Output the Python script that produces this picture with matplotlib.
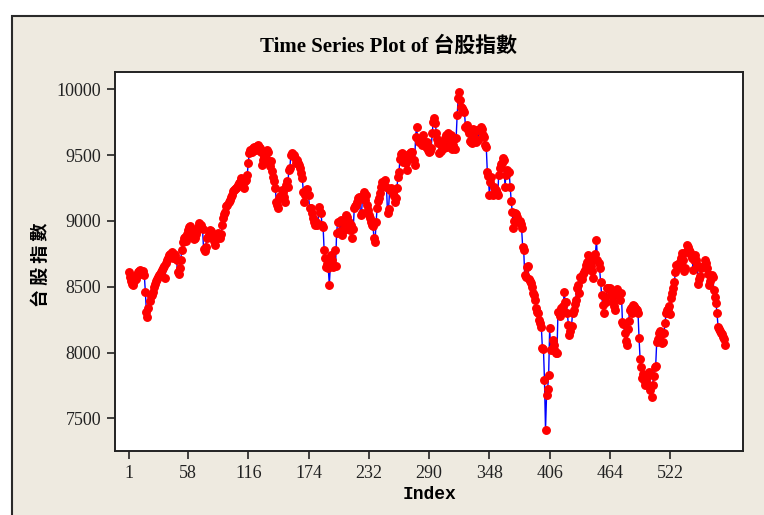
import matplotlib
matplotlib.use("Agg")
import matplotlib.pyplot as plt
from matplotlib.patches import Rectangle

# 台股指數 values, index 1..575
taiex = [
    8614, 8575, 8545, 8520, 8510, 8540, 8580, 8560, 8590, 8610,
    8620, 8630, 8615, 8600, 8620, 8590, 8460, 8310, 8272, 8340,
    8390, 8430, 8440, 8460, 8500, 8520, 8540, 8560, 8575, 8590,
    8600, 8610, 8630, 8640, 8660, 8565, 8680, 8700, 8720, 8740,
    8750, 8730, 8760, 8720, 8750, 8740, 8700, 8610, 8600, 8640,
    8700, 8780, 8840, 8870, 8880, 8850, 8900, 8930, 8950, 8960,
    8918, 8900, 8880, 8860, 8870, 8900, 8931, 8956, 8981, 8970,
    8968, 8940, 8790, 8770, 8800, 8867, 8880, 8900, 8931, 8920,
    8900, 8880, 8850, 8817, 8860, 8880, 8905, 8890, 8870, 8900,
    8968, 9019, 9050, 9070, 9110, 9121, 9140, 9159, 9180, 9197,
    9230, 9235, 9240, 9247, 9260, 9273, 9290, 9298, 9323, 9300,
    9290, 9247, 9300, 9311, 9349, 9437, 9514, 9539, 9530, 9520,
    9551, 9560, 9540, 9570, 9577, 9565, 9550, 9526, 9425, 9460,
    9488, 9470, 9480, 9539, 9520, 9450, 9420, 9455, 9380, 9330,
    9300, 9250, 9146, 9120, 9095, 9171, 9190, 9235, 9220, 9180,
    9146, 9273, 9300, 9260, 9387, 9399, 9501, 9514, 9490, 9500,
    9480, 9437, 9460, 9440, 9425, 9400, 9361, 9323, 9222, 9146,
    9200, 9235, 9240, 9200, 9095, 9100, 9060, 9019, 8990, 8968,
    8990, 8970, 8980, 9108, 9070, 9057, 8968, 8956, 8779, 8716,
    8652, 8670, 8640, 8513, 8660, 8741, 8700, 8650, 8779, 8660,
    8906, 8994, 8994, 8920, 9010, 8893, 9000, 8930, 8960, 9045,
    9030, 8950, 8990, 8930, 8968, 8867, 8940, 9095, 9110, 9121,
    9140, 9171, 9180, 9045, 9060, 9190, 9222, 9160, 9200, 9120,
    9080, 9045, 9020, 8990, 8968, 8960, 8867, 8842, 8994, 9095,
    9150, 9171, 9210, 9260, 9298, 9290, 9270, 9311, 9260, 9057,
    9090, 9235, 9250, 9230, 9210, 9190, 9146, 9170, 9247, 9330,
    9374, 9470, 9510, 9514, 9450, 9480, 9500, 9440, 9387, 9470,
    9500, 9514, 9520, 9526, 9460, 9425, 9640, 9716, 9620, 9600,
    9620, 9615, 9580, 9653, 9600, 9577, 9560, 9600, 9539, 9520,
    9530, 9550, 9665, 9754, 9780, 9740, 9665, 9620, 9590, 9514,
    9530, 9580, 9600, 9550, 9630, 9653, 9560, 9665, 9630, 9600,
    9653, 9545, 9577, 9620, 9545, 9628, 9805, 9931, 9982, 9920,
    9868, 9860, 9845, 9830, 9716, 9730, 9690, 9670, 9610, 9600,
    9589, 9700, 9640, 9610, 9602, 9690, 9615, 9690, 9700, 9716,
    9700, 9650, 9640, 9577, 9560, 9374, 9340, 9197, 9298, 9330,
    9197, 9260, 9230, 9235, 9210, 9200, 9349, 9399, 9430, 9440,
    9475, 9460, 9260, 9350, 9387, 9370, 9370, 9260, 9150, 9070,
    8943, 9000, 9057, 9050, 9030, 8994, 9000, 8980, 8943, 8804,
    8779, 8589, 8570, 8652, 8660, 8560, 8540, 8525, 8500, 8450,
    8440, 8399, 8340, 8310, 8300, 8250, 8222, 8190, 8032, 8030,
    7791, 7411, 7677, 7720, 7829, 8184, 8020, 8030, 8095, 8060,
    8010, 7994, 8000, 8310, 8300, 8280, 8336, 8320, 8350, 8462,
    8380, 8380, 8300, 8209, 8133, 8160, 8200, 8298, 8323, 8370,
    8399, 8488, 8513, 8450, 8576, 8570, 8560, 8600, 8614, 8630,
    8665, 8690, 8741, 8700, 8680, 8660, 8620, 8563, 8716, 8750,
    8855, 8700, 8680, 8640, 8538, 8437, 8360, 8298, 8420, 8380,
    8488, 8490, 8480, 8490, 8460, 8430, 8386, 8350, 8323, 8460,
    8480, 8440, 8450, 8400, 8450, 8235, 8220, 8150, 8090, 8057,
    8180, 8240, 8323, 8340, 8300, 8361, 8350, 8340, 8330, 8320,
    8300, 8108, 7950, 7893, 7804, 7840, 7791, 7753, 7800, 7760,
    7829, 7850, 7715, 7665, 7753, 7820, 7893, 7900, 8083, 8100,
    8146, 8160, 8140, 8070, 8080, 8150, 8222, 8300, 8323, 8330,
    8350, 8290, 8412, 8450, 8488, 8538, 8614, 8665, 8670, 8650,
    8690, 8720, 8754, 8700, 8620, 8640, 8760, 8817, 8800, 8780,
    8766, 8740, 8720, 8627, 8700, 8741, 8700, 8665, 8520, 8560,
    8580, 8639, 8650, 8660, 8703, 8680, 8640, 8600, 8513, 8540,
    8576, 8590, 8570, 8475, 8420, 8374, 8298, 8197, 8180, 8160,
    8150, 8140, 8120, 8100, 8057,
]
index = list(range(1, len(taiex) + 1))

xticks = [1, 58, 116, 174, 232, 290, 348, 406, 464, 522]
yticks = [7500, 8000, 8500, 9000, 9500, 10000]

serif = ['Liberation Serif', 'Noto Sans CJK TC', 'DejaVu Sans']
cjk = ['Noto Sans CJK TC', 'DejaVu Sans']

fig = plt.figure(figsize=(7.64, 5.15), dpi=100)
fig.patch.set_facecolor('white')

ax = fig.add_axes([115 / 764, 1 - 450.7 / 515, (743 - 115) / 764, (450.7 - 72) / 515])
ax.set_zorder(2)
# beige panel with dark frame, behind the axes
fig.patches.append(Rectangle((12 / 764, -0.01), 1.0, (515 - 16) / 515 + 0.01,
                             transform=fig.transFigure, facecolor='#EEEAE0',
                             edgecolor='#2a2a2a', linewidth=1.5, zorder=-1))

ax.set_facecolor('white')
ax.plot(index, taiex, color='#0000ff', linewidth=1.0, zorder=2)
ax.plot(index, taiex, linestyle='none', marker='o', markersize=5.4,
        markerfacecolor='#ff0000', markeredgecolor='#ff0000', zorder=3)

ax.set_xlim(-12.2, 592)
ax.set_ylim(7254, 10131)
ax.set_xticks(xticks)
ax.set_yticks(yticks)
ax.tick_params(direction='out', length=6, width=1.2, color='#222222',
               labelsize=13, pad=4)
for lab in ax.get_xticklabels() + ax.get_yticklabels():
    lab.set_family(serif)
    lab.set_color('#222222')
for s in ax.spines.values():
    s.set_linewidth(1.4)
    s.set_color('#222222')

ax.set_xlabel('Index', family=['Liberation Mono', 'DejaVu Sans Mono'],
              fontweight='bold', fontsize=13, labelpad=3)
ax.set_ylabel('台 股 指 數', family=cjk, fontweight='bold', fontsize=13)
ax.yaxis.set_label_coords(-0.103, 0.49)

fig.text(388 / 764, 1 - 47 / 515, 'Time Series Plot of 台股指數', family=serif,
         fontweight='bold', fontsize=15, ha='center', va='center')

fig.savefig('out.png', dpi=100)
